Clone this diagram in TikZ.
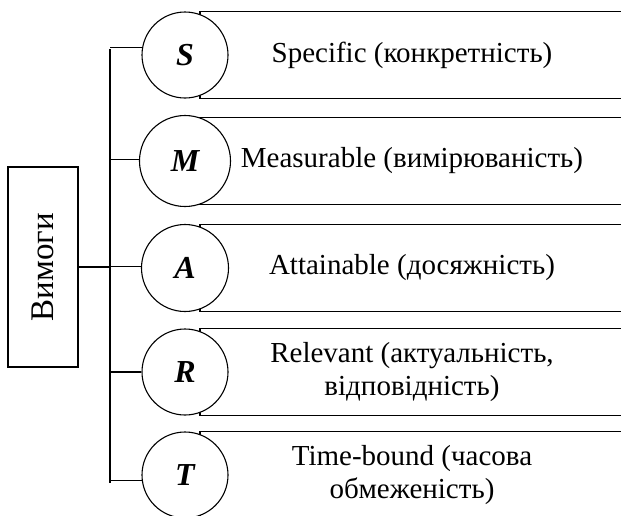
\documentclass[tikz,border=0pt]{standalone}
\usepackage{fontspec}
\usepackage{graphicx}
\setmainfont{Liberation Serif}

\tikzset{
    lettercircle/.style={circle, draw, fill=white, inner sep=0pt,
        font=\fontsize{32}{36}\selectfont\bfseries\itshape},
    itembox/.style={rectangle, draw, minimum width=424pt, minimum height=87pt,
        align=center, font=\fontsize{29}{33}\selectfont},
    mainbox/.style={rectangle, draw, minimum width=70pt, minimum height=200pt,
        font=\fontsize{33}{36}\selectfont}
}

\begin{document}
\begin{tikzpicture}[x=1pt,y=-1pt,line width=1.1pt]
    \clip (0,0) rectangle (621,515);
    \node[mainbox] (vym) at (43,267) {\rotatebox{90}{Вимоги}};
    \coordinate (spinetop) at (110,49);
    \coordinate (spinebot) at (110,483);
    \draw (spinetop) -- (spinebot);
    \draw (vym.east) -- (vym.east -| spinetop);
    \foreach \name/\letter/\y/\sz/\ang/\txt in {
        s/S/55/86/170/{Specific (конкретність)},
        m/M/161/91/178/{Measurable (вимірюваність)},
        a/A/268/87/178/{Attainable (досяжність)},
        r/R/372/86/180/{Relevant (актуальність,\\відповідність)},
        t/T/475/86/187/{Time-bound (часова\\обмеженість)}}
    {
        \node[itembox] (\name box) at (412,\y) {\txt};
        \node[lettercircle, minimum size=\sz pt] (\name) at (185,\y) {\letter};
        \draw (spinetop |- \name.\ang) -- (\name.\ang);
    }
\end{tikzpicture}
\end{document}
